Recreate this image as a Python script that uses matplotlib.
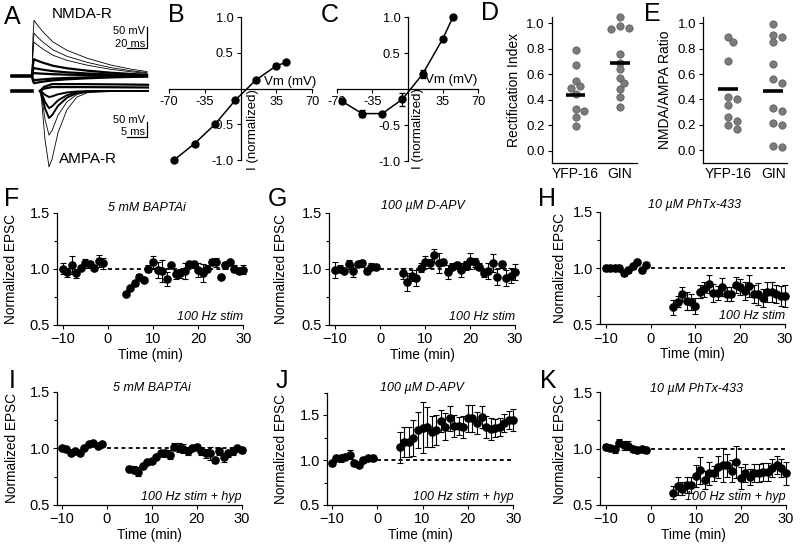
import matplotlib

matplotlib.use("Agg")
import matplotlib.pyplot as plt
import numpy as np

plt.rcParams["font.family"] = ["Liberation Sans", "DejaVu Sans"]

W, H = 800, 546

# ---------------- A: example traces ----------------
NMDA_T = [0, 1, 2, 5, 11, 21, 35, 55, 78, 100, 115]          # ms after stim
NMDA_SHAPE = [0.0, 0.7, 1.0, 0.92, 0.79, 0.61, 0.46, 0.32, 0.2, 0.12, 0.08]
NMDA_AMP = [133, 102, 81, 40, 19, 7, -10, -17]               # mV

AMPA_T = [0, 0.4, 1.25, 2.25, 3.0, 4.5, 6.7, 9.2, 12, 18, 27]
AMPA_SHAPE = [0.0, 0.12, 0.64, 1.0, 0.9, 0.55, 0.25, 0.08, 0.02, 0.0, 0.0]
AMPA_AMP = [-253, -147, -90, -57, -20]
AMPA_OUT_T = [0, 1, 3, 10, 20, 27]
AMPA_OUT_SHAPE = [0.0, 0.6, 1.0, 1.0, 0.95, 0.9]
AMPA_OUT_AMP = [13, 23]

# ---------------- B, C: I-V ----------------
VM = [-65, -45, -25, -5, 15, 35, 45]
B_I = [-1.0, -0.77, -0.5, -0.16, 0.12, 0.32, 0.37]
B_ERR = [0.01, 0.01, 0.01, 0.01, 0.01, 0.03, 0.03]
C_I = [-0.17, -0.34, -0.34, -0.14, 0.21, 0.70, 1.0]
C_ERR = [0.01, 0.05, 0.02, 0.09, 0.05, 0.03, 0.0]

# ---------------- D, E: scatter ----------------
GROUPS = ["YFP-16", "GIN"]
D_YFP = [0.79, 0.67, 0.55, 0.51, 0.49, 0.445, 0.325, 0.31, 0.267, 0.19]
D_GIN = [1.05, 0.98, 0.96, 0.95, 0.76, 0.69, 0.64, 0.57, 0.53, 0.48, 0.42, 0.345]
D_MEAN = [0.44, 0.69]
E_YFP = [0.895, 0.85, 0.70, 0.42, 0.40, 0.355, 0.26, 0.23, 0.20, 0.17]
E_GIN = [0.995, 0.91, 0.89, 0.85, 0.68, 0.56, 0.53, 0.33, 0.31, 0.21, 0.20, 0.03, 0.025]
E_MEAN = [0.48, 0.47]

# ---------------- F-K: time courses ----------------
PRE_T = [-10, -9, -8, -7, -6, -5, -4, -3, -2, -1]
POST_T_F = list(range(4, 31))
POST_T = list(range(5, 31))

F_PRE = [1.00, 0.97, 1.03, 0.96, 1.01, 1.05, 1.04, 1.01, 1.07, 1.05]
F_PRE_ERR = [0.05, 0.04, 0.08, 0.04, 0.02, 0.04, 0.03, 0.02, 0.05, 0.05]
F_POST = [0.78, 0.83, 0.87, 0.93, 0.90, 1.00, 1.06, 0.99, 0.98, 0.91,
          1.03, 0.95, 0.96, 0.98, 1.04, 1.04, 0.99, 0.96, 1.00, 1.06,
          1.06, 0.93, 1.03, 1.06, 1.00, 0.98, 0.99]
F_POST_ERR = [0.01, 0.01, 0.02, 0.02, 0.01, 0.03, 0.05, 0.07, 0.10, 0.06,
              0.02, 0.04, 0.04, 0.07, 0.02, 0.03, 0.06, 0.08, 0.03, 0.03,
              0.04, 0.01, 0.03, 0.02, 0.03, 0.03, 0.04]

G_PRE = [0.99, 1.00, 0.98, 1.04, 0.98, 1.04, 1.05, 0.98, 1.02, 1.02]
G_PRE_ERR = [0.07, 0.03, 0.02, 0.04, 0.05, 0.02, 0.03, 0.03, 0.03, 0.02]
G_POST = [0.96, 0.88, 0.94, 0.92, 1.01, 1.06, 1.05, 1.12, 1.05, 1.06,
          0.97, 1.02, 1.03, 0.99, 1.03, 1.07, 1.06, 1.02, 0.96, 0.98,
          1.05, 0.93, 1.04, 0.92, 0.94, 0.97]
G_POST_ERR = [0.05, 0.08, 0.05, 0.07, 0.04, 0.05, 0.04, 0.06, 0.09, 0.03,
              0.06, 0.03, 0.03, 0.06, 0.04, 0.07, 0.04, 0.03, 0.03, 0.07,
              0.08, 0.07, 0.03, 0.07, 0.07, 0.07]

H_PRE = [1.00, 1.00, 1.00, 1.00, 0.955, 0.98, 1.015, 1.05, 0.98, 1.03]
H_PRE_ERR = [0.03, 0.02, 0.02, 0.03, 0.03, 0.02, 0.02, 0.02, 0.02, 0.02]
H_POST = [0.65, 0.70, 0.77, 0.71, 0.70, 0.66, 0.79, 0.81, 0.86, 0.78,
          0.78, 0.83, 0.77, 0.77, 0.85, 0.83, 0.80, 0.84, 0.77, 0.77,
          0.73, 0.79, 0.79, 0.77, 0.75, 0.75]
H_POST_ERR = [0.07, 0.05, 0.06, 0.08, 0.07, 0.07, 0.06, 0.07, 0.08, 0.08,
              0.06, 0.08, 0.06, 0.06, 0.07, 0.07, 0.08, 0.10, 0.08, 0.10,
              0.08, 0.09, 0.09, 0.08, 0.09, 0.10]

I_PRE = [1.00, 0.995, 0.955, 0.975, 0.955, 1.005, 1.035, 1.045, 1.02, 1.035]
I_PRE_ERR = [0.015] * 10
I_POST = [0.82, 0.81, 0.795, 0.845, 0.88, 0.89, 0.925, 0.955, 0.955, 0.945,
          1.015, 1.005, 0.995, 0.975, 1.005, 1.015, 0.975, 0.955, 0.955, 0.895,
          0.975, 0.92, 0.955, 0.975, 1.0, 0.985]
I_POST_ERR = [0.02, 0.03, 0.04, 0.02, 0.02, 0.02, 0.02, 0.02, 0.03, 0.04,
              0.03, 0.04, 0.04, 0.03, 0.02, 0.02, 0.03, 0.04, 0.06, 0.02,
              0.03, 0.04, 0.03, 0.03, 0.02, 0.03]

J_PRE = [0.963, 1.026, 1.02, 1.037, 1.056, 0.963, 0.95, 1.0, 1.02, 1.02]
J_PRE_ERR = [0.03, 0.02, 0.04, 0.03, 0.05, 0.03, 0.03, 0.03, 0.03, 0.03]
J_POST = [1.14, 1.20, 1.20, 1.24, 1.33, 1.36, 1.37, 1.315, 1.333, 1.433,
          1.37, 1.463, 1.38, 1.38, 1.37, 1.463, 1.463, 1.41, 1.48, 1.37,
          1.344, 1.36, 1.37, 1.407, 1.45, 1.444]
J_POST_ERR = [0.17, 0.17, 0.17, 0.20, 0.20, 0.28, 0.22, 0.17, 0.17, 0.12,
              0.15, 0.14, 0.12, 0.10, 0.12, 0.15, 0.15, 0.12, 0.12, 0.12,
              0.12, 0.10, 0.10, 0.10, 0.10, 0.12]

K_PRE = [1.015, 1.006, 0.994, 1.053, 1.03, 1.024, 0.994, 0.985, 0.994, 0.985]
K_PRE_ERR = [0.03, 0.03, 0.03, 0.03, 0.04, 0.04, 0.02, 0.02, 0.02, 0.02]
K_POST = [0.61, 0.67, 0.645, 0.68, 0.68, 0.757, 0.81, 0.72, 0.78, 0.78,
          0.837, 0.858, 0.852, 0.80, 0.88, 0.74, 0.78, 0.75, 0.787, 0.787,
          0.793, 0.793, 0.83, 0.858, 0.83, 0.78]
K_POST_ERR = [0.06, 0.08, 0.06, 0.07, 0.07, 0.10, 0.12, 0.08, 0.10, 0.07,
              0.10, 0.15, 0.10, 0.10, 0.14, 0.10, 0.08, 0.07, 0.08, 0.08,
              0.08, 0.08, 0.08, 0.08, 0.08, 0.10]


def px_box(x0, y0, x1, y1):
    return [x0 / W, 1 - y1 / H, (x1 - x0) / W, (y1 - y0) / H]


def letter(fig, x, y, s):
    fig.text(x / W, 1 - y / H, s, fontsize=18, ha="center", va="center")


def draw_traces(fig):
    # NMDA group: 1 px per ms, 0.42 px per mV, baseline at y=76 px
    ax = fig.add_axes(px_box(0, 0, 160, 185))
    ax.set_xlim(-32, 128)
    ax.set_ylim(-259.5, 181)
    ax.axis("off")
    ax.plot([-20, -1], [0, 0], color="k", lw=2.6)
    shape = np.asarray(NMDA_SHAPE)
    for amp in NMDA_AMP:
        lw = 0.6 if abs(amp) > 60 else 1.6
        ax.plot(NMDA_T, amp * shape, color="k", lw=lw)
    ax.plot([95, 115, 115], [66.7, 66.7, 116.7], color="k", lw=0.9)
    ax.text(113, 106, "50 mV", fontsize=8, ha="right", va="center")
    ax.text(113, 77, "20 ms", fontsize=8, ha="right", va="center")
    ax.text(50, 148, "NMDA-R", fontsize=11, ha="center", va="center")

    # AMPA group: 4 px per ms, 0.3 px per mV, baseline at y=91 px
    ax = fig.add_axes(px_box(0, 0, 160, 185))
    ax.set_xlim(-10, 30)
    ax.set_ylim(-313.3, 303.3)
    ax.axis("off")
    ax.plot([-7, -2], [0, 0], color="k", lw=2.6)
    shape = np.asarray(AMPA_SHAPE)
    for amp in AMPA_AMP:
        lw = 0.6 if abs(amp) > 100 else 1.4
        ax.plot(AMPA_T, amp * shape, color="k", lw=lw)
    shape = np.asarray(AMPA_OUT_SHAPE)
    for amp in AMPA_OUT_AMP:
        ax.plot(AMPA_OUT_T, amp * shape, color="k", lw=1.6)
    ax.plot([21.7, 26.7, 26.7], [-153.3, -153.3, -103.3], color="k", lw=0.9)
    ax.text(26.2, -95, "50 mV", fontsize=8, ha="right", va="center")
    ax.text(26.2, -137, "5 ms", fontsize=8, ha="right", va="center")
    ax.text(11.9, -226, "AMPA-R", fontsize=11, ha="center", va="center")


def iv_panel(ax, cur, err, vlab, ilab):
    ax.set_xlim(-70, 70)
    ax.set_ylim(-1, 1)
    ax.patch.set_alpha(0)
    for s in ["top", "right"]:
        ax.spines[s].set_visible(False)
    ax.spines["left"].set_position(("data", 0))
    ax.spines["bottom"].set_position(("data", 0))
    for s in ["left", "bottom"]:
        ax.spines[s].set_linewidth(0.9)
    ax.set_xticks([-70, -35, 35, 70])
    ax.set_xticklabels(["-70", "-35", "35", "70"])
    ax.set_yticks([-1.0, -0.5, 0.5, 1.0])
    ax.set_yticklabels(["-1.0", "-0.5", "0.5", "1.0"])
    ax.tick_params(labelsize=9.2, length=3, width=0.8, pad=2)
    ax.errorbar(VM, cur, yerr=err, fmt="-o", color="k", ms=5, lw=1.1,
                capsize=2.2, elinewidth=0.8, clip_on=False, zorder=3)
    ax.text(vlab[0], vlab[1], "Vm (mV)", fontsize=9.5, ha="center", va="center")
    ax.text(ilab[0], ilab[1], "I (normalized)", fontsize=9.5, rotation=90,
            ha="center", va="center")


def swarm_offsets(values, ax, diam=7.0):
    pts = ax.transData.transform(np.column_stack([np.zeros(len(values)), values]))
    xs_unit = ax.transData.transform([[1, 0]])[0][0] - ax.transData.transform([[0, 0]])[0][0]
    placed, offs = [], []
    for (_, y) in pts:
        for k in [0, 1, -1, 2, -2, 3, -3]:
            x = k * diam * 0.62
            if all((x - px) ** 2 + (y - py) ** 2 >= (0.9 * diam) ** 2 for px, py in placed):
                break
        placed.append((x, y))
        offs.append(x / xs_unit)
    return offs


def scatter_panel(ax, groups_vals, means, xlim, ylim, ylabel):
    ax.set_xlim(*xlim)
    ax.set_ylim(*ylim)
    for s in ["top", "right"]:
        ax.spines[s].set_visible(False)
    for s in ["left", "bottom"]:
        ax.spines[s].set_linewidth(0.9)
    for i, vals in enumerate(groups_vals):
        offs = swarm_offsets(vals, ax)
        ax.plot(np.array(offs) + i, vals, "o", color="#7b7b7b", mec="#555555",
                mew=0.5, ms=5.3, clip_on=False, zorder=3)
        ax.hlines(means[i], i - 0.22, i + 0.22, colors="k", lw=2.6, zorder=4)
    ax.set_xticks([0, 1])
    ax.set_xticklabels(GROUPS)
    ax.set_yticks([0.0, 0.2, 0.4, 0.6, 0.8, 1.0])
    ax.set_yticklabels(["0.0", "0.2", "0.4", "0.6", "0.8", "1.0"])
    ax.tick_params(axis="x", length=0, labelsize=10, pad=3)
    ax.tick_params(axis="y", length=3, width=0.8, labelsize=9.5, pad=2)
    ax.set_ylabel(ylabel, fontsize=10, labelpad=4)


def time_panel(ax, post_t, pre, pre_err, post, post_err, xlim, ylim,
               title, note, title_xy, ylab_x):
    ax.set_xlim(*xlim)
    ax.set_ylim(*ylim)
    for s in ["top", "right"]:
        ax.spines[s].set_visible(False)
    for s in ["left", "bottom"]:
        ax.spines[s].set_linewidth(0.9)
    ax.hlines(1.0, 0, 30, colors="k", linestyles=(0, (2.2, 1.8)), lw=1.3, zorder=1)
    kw = dict(fmt="o", color="k", ms=5.2, capsize=2.4, elinewidth=0.8,
              capthick=0.8, clip_on=False, zorder=3)
    ax.errorbar(PRE_T, pre, yerr=pre_err, **kw)
    ax.errorbar(post_t, post, yerr=post_err, **kw)
    ax.set_xticks([-10, 0, 10, 20, 30])
    ax.set_yticks([0.5, 1.0, 1.5])
    ax.set_yticks([0.75, 1.25] + ([1.75] if ylim[1] > 1.7 else []), minor=True)
    ax.tick_params(length=3.2, width=0.8, labelsize=10.5, pad=2)
    ax.tick_params(which="minor", length=2, width=0.8)
    ax.set_ylabel("Normalized EPSC", fontsize=9.8)
    ax.yaxis.set_label_coords(ylab_x, 0.5)
    ax.set_xlabel("Time (min)", fontsize=9.8, labelpad=1)
    ax.text(title_xy[0], title_xy[1], title, transform=ax.transAxes, fontsize=9,
            style="italic", ha="center", va="center")
    ax.text(1.0, 0.074, note, transform=ax.transAxes, fontsize=9,
            style="italic", ha="right", va="center")


def main():
    fig = plt.figure(figsize=(W / 100, H / 100), dpi=100)

    draw_traces(fig)

    ax_b = fig.add_axes(px_box(169, 17.3, 312, 160))
    iv_panel(ax_b, B_I, B_ERR, (48.5, 0.10), (12.2, -0.58))
    ax_c = fig.add_axes(px_box(337, 17.3, 478, 161))
    iv_panel(ax_c, C_I, C_ERR, (43, 0.13), (10.7, -0.55))

    ax_d = fig.add_axes(px_box(551.7, 16.7, 636.7, 162.7))
    scatter_panel(ax_d, [D_YFP, D_GIN], D_MEAN, (-0.54, 1.377), (-0.094, 1.05),
                  "Rectification Index")
    ax_e = fig.add_axes(px_box(703.3, 16.7, 786.7, 162.7))
    scatter_panel(ax_e, [E_YFP, E_GIN], E_MEAN, (-0.556, 1.3), (-0.1, 1.053),
                  "NMDA/AMPA Ratio")

    panels = [
        ((57.3, 212.7, 243.3, 325), POST_T_F, F_PRE, F_PRE_ERR, F_POST, F_POST_ERR,
         (-11.2, 30), (0.5, 1.5), "5 mM BAPTAi", "100 Hz stim", (0.48, 1.042), -0.21),
        ((329.3, 212.7, 515, 325), POST_T, G_PRE, G_PRE_ERR, G_POST, G_POST_ERR,
         (-11.27, 30), (0.5, 1.5), "100 µM D-APV", "100 Hz stim", (0.505, 1.06), -0.22),
        ((600, 211.7, 785, 324.3), POST_T, H_PRE, H_PRE_ERR, H_POST, H_POST_ERR,
         (-11.34, 30), (0.5, 1.5), "10 µM PhTx-433", "100 Hz stim", (0.51, 1.06), -0.18),
        ((57.3, 391.7, 241.7, 505), POST_T, I_PRE, I_PRE_ERR, I_POST, I_POST_ERR,
         (-10.98, 30), (0.5, 1.5), "5 mM BAPTAi", "100 Hz stim + hyp", (0.512, 1.033), -0.21),
        ((327.3, 392.5, 513.3, 505), POST_T, J_PRE, J_PRE_ERR, J_POST, J_POST_ERR,
         (-10.97, 30), (0.5, 1.75), "100 µM D-APV", "100 Hz stim + hyp", (0.507, 1.04), -0.21),
        ((600, 392.3, 786, 505), POST_T, K_PRE, K_PRE_ERR, K_POST, K_POST_ERR,
         (-11.33, 30), (0.5, 1.5), "10 µM PhTx-433", "100 Hz stim + hyp", (0.52, 1.033), -0.18),
    ]
    for box, post_t, pre, pre_e, post, post_e, xl, yl, title, note, txy, ylx in panels:
        ax = fig.add_axes(px_box(*box))
        time_panel(ax, post_t, pre, pre_e, post, post_e, xl, yl, title, note, txy, ylx)

    for x, y, s in [(12, 17, "A"), (176.7, 14.5, "B"), (330, 14.5, "C"),
                    (490, 13, "D"), (652, 14, "E"), (12, 199, "F"),
                    (277, 199, "G"), (547, 199, "H"), (12, 381, "I"),
                    (282, 381, "J"), (548, 381, "K")]:
        letter(fig, x, y, s)

    fig.savefig("out.png", dpi=100, facecolor="white")
    plt.close(fig)


if __name__ == "__main__":
    main()
